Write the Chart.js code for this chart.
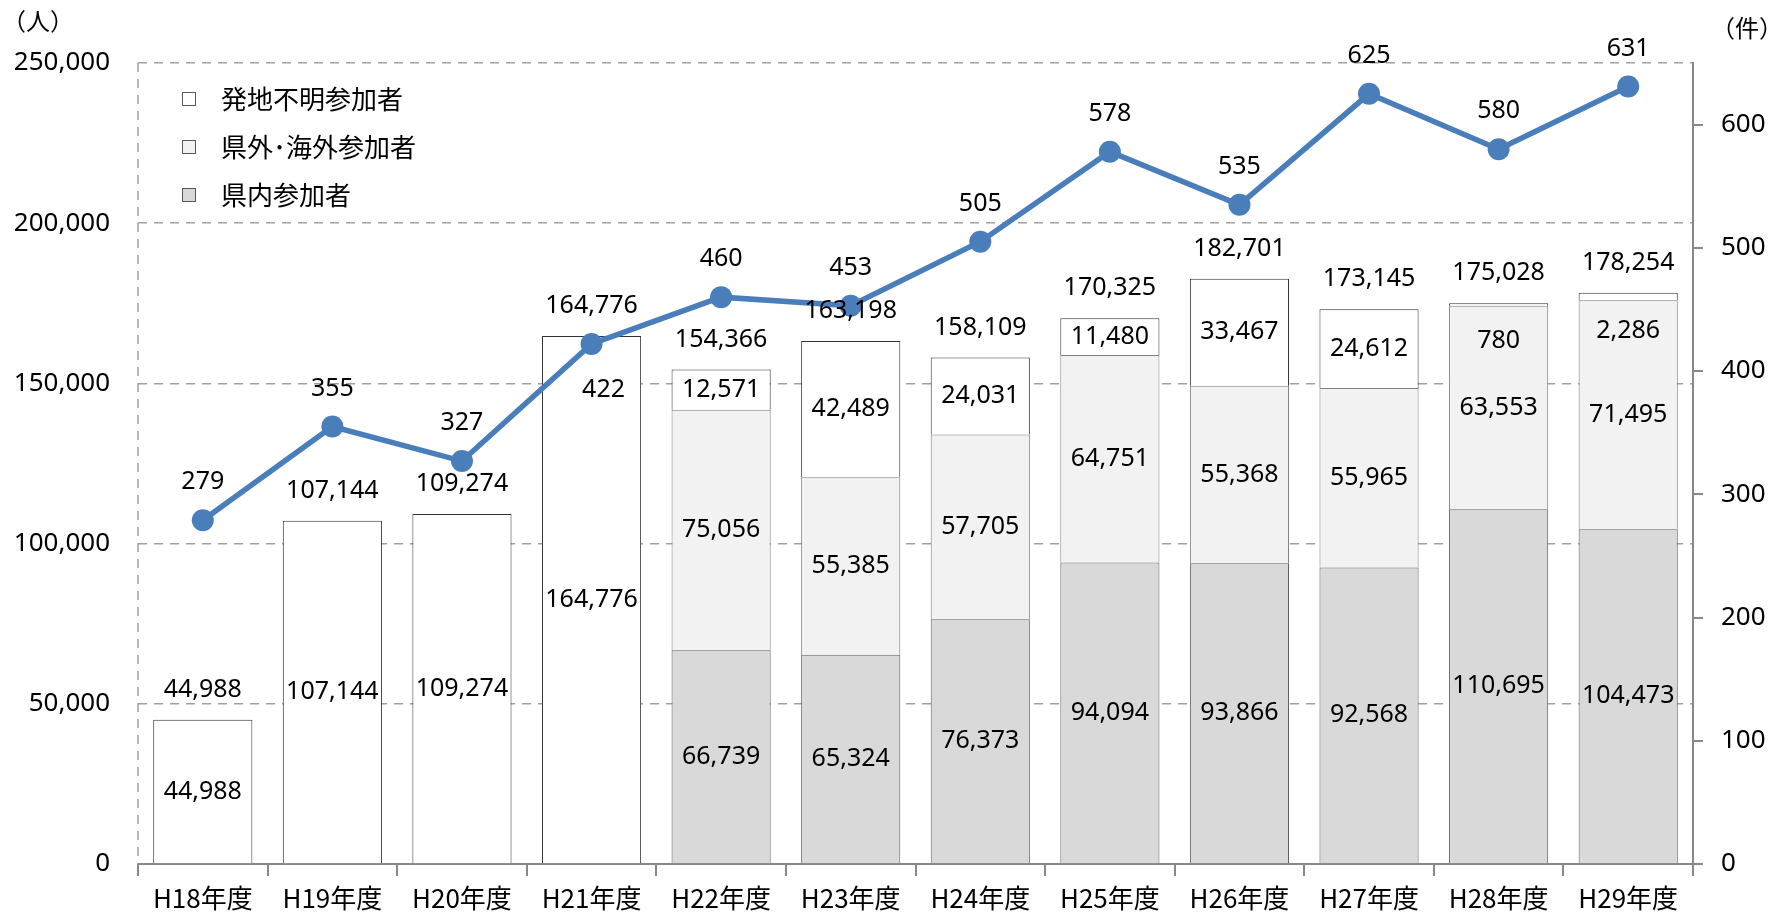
<!DOCTYPE html>
<html>
<head>
<meta charset="utf-8">
<script src="https://cdn.jsdelivr.net/npm/chart.js@4.4.0/dist/chart.umd.min.js"></script>
<style>
html,body{margin:0;padding:0;background:#fff}
#wrap{width:1778px;height:914px;position:relative}
</style>
</head>
<body>
<div id="wrap"><canvas id="c"></canvas></div>
<script>
// values
const years    = ['H18年度','H19年度','H20年度','H21年度','H22年度','H23年度','H24年度','H25年度','H26年度','H27年度','H28年度','H29年度'];
const unknownP = [44988,107144,109274,164776,12571,42489,24031,11480,33467,24612,780,2286];
const outsideP = [null,null,null,null,75056,55385,57705,64751,55368,55965,63553,71495];
const insideP  = [null,null,null,null,66739,65324,76373,94094,93866,92568,110695,104473];
const totalP   = [44988,107144,109274,164776,154366,163198,158109,170325,182701,173145,175028,178254];
const eventsN  = [279,355,327,422,460,453,505,578,535,625,580,631];
const leftTicks  = {min:0, max:250000, step:50000};
const rightTicks = {min:0, max:650, step:100};

const FONT = "'Noto Sans','Noto Sans CJK JP',sans-serif";
const JFONT = "'Noto Sans CJK JP','Noto Sans',sans-serif";
const fmt = v => v.toLocaleString('en-US');
const GRID = '#a0a0a0';

// labels, legend, unit captions and dashed left edge
const decor = {
  id:'decor',
  beforeDatasetsDraw(chart){
    const {ctx, chartArea:a} = chart;
    ctx.save();
    ctx.strokeStyle = GRID; ctx.lineWidth = 1.5; ctx.setLineDash([9,7]);
    ctx.beginPath(); ctx.moveTo(a.left, a.top); ctx.lineTo(a.left, a.bottom); ctx.stroke();
    ctx.restore();
  },
  afterDatasetsDraw(chart){
    const {ctx, chartArea:a} = chart;
    ctx.save();
    ctx.fillStyle = '#000';
    ctx.textAlign = 'center'; ctx.textBaseline = 'middle';
    ctx.font = '25px ' + FONT;
    // segment labels (bar datasets 1..3)
    [1,2,3].forEach(di=>{
      const meta = chart.getDatasetMeta(di);
      const data = chart.data.datasets[di].data;
      meta.data.forEach((el,i)=>{
        const v = data[i];
        if(v==null || !v) return;
        let y = (el.y + el.base)/2;
        if(v < 5000) y = el.y + 38;
        ctx.fillText(fmt(v), el.x, y);
      });
    });
    // totals above the stacks
    const topMeta = chart.getDatasetMeta(3);
    topMeta.data.forEach((el,i)=>{
      ctx.fillText(fmt(totalP[i]), el.x, el.y - 30);
    });
    // line labels
    const lm = chart.getDatasetMeta(0);
    lm.data.forEach((el,i)=>{
      if(i===3) ctx.fillText(String(eventsN[i]), el.x + 12, el.y + 46);
      else ctx.fillText(String(eventsN[i]), el.x, el.y - 38);
    });
    // legend
    const order = [3,2,1];
    ctx.textAlign = 'left';
    ctx.font = '26px ' + JFONT;
    order.forEach((di,k)=>{
      const ds = chart.data.datasets[di];
      const y = a.top + 36 + k*48;
      ctx.fillStyle = ds.backgroundColor;
      ctx.fillRect(182, y-7, 14, 14);
      ctx.strokeStyle = '#595959'; ctx.lineWidth = 1;
      ctx.strokeRect(182.5, y-6.5, 13, 13);
      ctx.fillStyle = '#000';
      ctx.fillText(ds.label, 221, y);
    });
    // unit captions
    ctx.font = '24px ' + JFONT;
    ctx.fillText('（人）', 2, 21);
    ctx.fillText('（件）', 1711, 28);
    ctx.restore();
  }
};

new Chart(document.getElementById('c'), {
  data:{
    labels: years,
    datasets:[
      {type:'line', label:'件数', data:eventsN, yAxisID:'y1', order:0,
       borderColor:'#4a7ebb', backgroundColor:'#4a7ebb', borderWidth:5.5,
       pointRadius:11, pointBackgroundColor:'#4a7ebb', pointBorderWidth:0, tension:0},
      {type:'bar', label:'県内参加者', data:insideP, yAxisID:'y', order:1,
       backgroundColor:'#d9d9d9', borderColor:'#5f5f5f', borderWidth:1},
      {type:'bar', label:'県外･海外参加者', data:outsideP, yAxisID:'y', order:1,
       backgroundColor:'#f2f2f2', borderColor:'#7f7f7f', borderWidth:1},
      {type:'bar', label:'発地不明参加者', data:unknownP, yAxisID:'y', order:1,
       backgroundColor:'#ffffff', borderColor:'#333333', borderWidth:1}
    ]
  },
  options:{
    responsive:true, maintainAspectRatio:false, animation:false, devicePixelRatio:1,
    layout:{padding:{top:63,left:0,right:0,bottom:0}},
    datasets:{bar:{categoryPercentage:1, barPercentage:0.765}},
    plugins:{legend:{display:false}, tooltip:{enabled:false}},
    scales:{
      x:{stacked:true, offset:true,
         grid:{offset:true, drawOnChartArea:false, drawTicks:true, tickLength:12, color:'#888', lineWidth:2},
         border:{display:true, color:'#888', width:2},
         ticks:{color:'#000', font:{size:26, family:JFONT}, padding:7, maxRotation:0, autoSkip:false},
         afterFit(s){ s.height = 50; }},
      y:{stacked:true, position:'left', min:leftTicks.min, max:leftTicks.max,
         ticks:{stepSize:leftTicks.step, color:'#000', font:{size:26, family:FONT}, padding:28, callback:v=>fmt(v)},
         grid:{color:GRID, lineWidth:1.5, drawTicks:false},
         border:{display:false, dash:[9,7]},
         afterFit(s){ s.width = 138; }},
      y1:{position:'right', min:rightTicks.min, max:rightTicks.max,
         ticks:{stepSize:rightTicks.step, includeBounds:false, color:'#000', font:{size:26, family:FONT}, padding:18},
         grid:{drawOnChartArea:false, tickLength:10, color:'#888', lineWidth:2},
         border:{display:true, color:'#888', width:2},
         afterFit(s){ s.width = 85; }}
    }
  },
  plugins:[decor]
});
</script>
</body>
</html>
